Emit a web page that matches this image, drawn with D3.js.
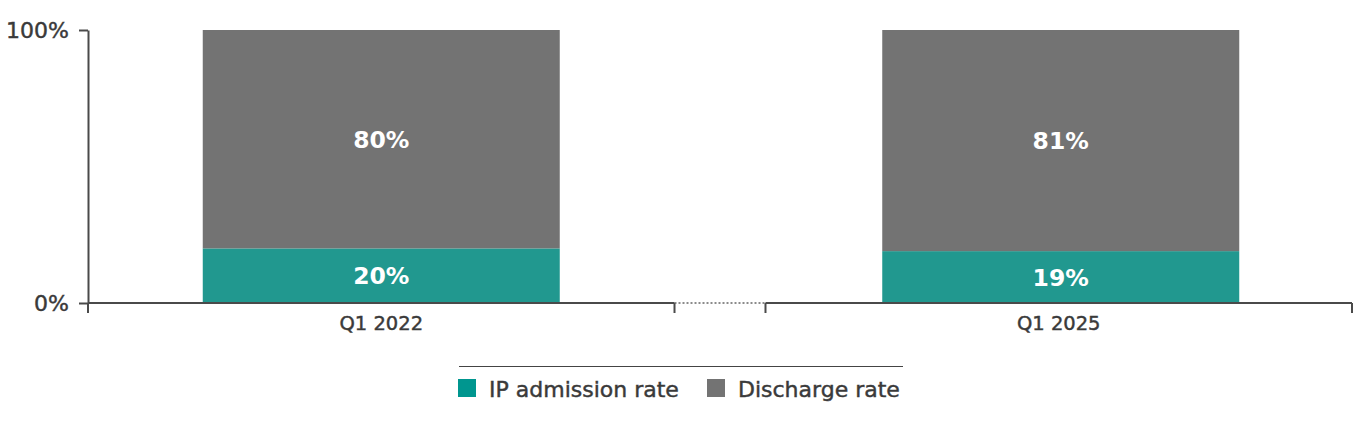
<!DOCTYPE html>
<html>
<head>
<meta charset="utf-8">
<script src="https://cdn.jsdelivr.net/npm/d3@7"></script>
<style>
  body { margin: 0; background: #fff; }
  svg text { font-family: "DejaVu Sans", "Noto Sans", sans-serif; }
</style>
</head>
<body>
<div id="chart"></div>
<script>
const categories = ["Q1 2022", "Q1 2025"];
const ipAdmission = [20, 19];
const discharge = [80, 81];
const seriesNames = ["IP admission rate", "Discharge rate"];
const yTicks = [0, 100];

const W = 1360, H = 421;
const colors = { ip: "#21988f", dis: "#737373", axis: "#4a4a4a", text: "#3a3a3a" };

const svg = d3.select("#chart").append("svg")
    .attr("width", W)
    .attr("height", H);

const y = d3.scaleLinear().domain([0, 100]).range([303, 30]);

const x = d3.scaleBand()
    .domain(categories)
    .range([88, 1352])
    .paddingInner(0.1343)
    .paddingOuter(0);

const barW = 357;
const barX = d => x(d.cat) + x.bandwidth() / 2 - barW / 2 + (d.cat === categories[1] ? 2 : 0);

const data = categories.map((c, i) => ({ cat: c, ip: ipAdmission[i], dis: discharge[i] }));

// y axis
const yAxis = svg.append("g")
    .attr("transform", "translate(88,0)")
    .call(d3.axisLeft(y).tickValues(yTicks).tickFormat(d => d + "%").tickSize(9).tickSizeOuter(0));
yAxis.select(".domain").attr("stroke", colors.axis).attr("stroke-width", 2);
yAxis.selectAll(".tick line").attr("stroke", colors.axis).attr("stroke-width", 2);
yAxis.selectAll(".tick text")
    .attr("x", -19)
    .attr("fill", colors.text)
    .attr("stroke", colors.text)
    .attr("stroke-width", 0.45)
    .style("font-size", "22px");
// extend y axis below baseline
yAxis.append("line")
    .attr("x1", 0).attr("x2", 0)
    .attr("y1", y(0)).attr("y2", y(0) + 10)
    .attr("stroke", colors.axis).attr("stroke-width", 2);

// bars
const groups = svg.selectAll(".bar").data(data).join("g").attr("class", "bar");

groups.append("rect")
    .attr("x", barX)
    .attr("width", barW)
    .attr("y", d => y(d.ip))
    .attr("height", d => y(0) - y(d.ip))
    .attr("fill", colors.ip);

groups.append("rect")
    .attr("x", barX)
    .attr("width", barW)
    .attr("y", d => y(d.ip + d.dis))
    .attr("height", d => y(d.ip) - y(d.ip + d.dis))
    .attr("fill", colors.dis);

groups.append("text")
    .attr("x", d => barX(d) + barW / 2)
    .attr("y", d => (y(0) + y(d.ip)) / 2)
    .attr("dy", "0.36em")
    .attr("text-anchor", "middle")
    .attr("fill", "#fff")
    .style("font-size", "23.5px")
    .style("font-weight", "bold")
    .text(d => d.ip + "%");

groups.append("text")
    .attr("x", d => barX(d) + barW / 2)
    .attr("y", d => (y(d.ip) + y(d.ip + d.dis)) / 2)
    .attr("dy", "0.36em")
    .attr("text-anchor", "middle")
    .attr("fill", "#fff")
    .style("font-size", "23.5px")
    .style("font-weight", "bold")
    .text(d => d.dis + "%");

// x axis segments (one per band, broken between them)
const xg = svg.append("g");
categories.forEach(c => {
    const x0 = x(c), x1 = x(c) + x.bandwidth();
    xg.append("line")
        .attr("x1", x0).attr("x2", x1)
        .attr("y1", y(0)).attr("y2", y(0))
        .attr("stroke", colors.axis).attr("stroke-width", 2);
    [x0, x1].forEach(xx => {
        if (xx === 88) return;
        xg.append("line")
            .attr("x1", xx).attr("x2", xx)
            .attr("y1", y(0)).attr("y2", y(0) + 10)
            .attr("stroke", colors.axis).attr("stroke-width", 2);
    });
    xg.append("text")
        .attr("x", x0 + x.bandwidth() / 2)
        .attr("y", y(0) + 27)
        .attr("text-anchor", "middle")
        .attr("fill", colors.text)
        .attr("stroke", colors.text)
        .attr("stroke-width", 0.45)
        .style("font-size", "19.5px")
        .text(c);
});
// dotted break between bands
xg.append("line")
    .attr("x1", x(categories[0]) + x.bandwidth())
    .attr("x2", x(categories[1]))
    .attr("y1", y(0)).attr("y2", y(0))
    .attr("stroke", "#666")
    .attr("stroke-width", 1.3)
    .attr("stroke-dasharray", "2,2");

// legend
const lg = svg.append("g");
lg.append("line")
    .attr("x1", 459).attr("x2", 903)
    .attr("y1", 366.5).attr("y2", 366.5)
    .attr("stroke", "#444").attr("stroke-width", 1.2);

const legendItems = [
    { name: seriesNames[0], color: "#00968f", x: 458 },
    { name: seriesNames[1], color: colors.dis, x: 707 }
];
legendItems.forEach(it => {
    lg.append("rect")
        .attr("x", it.x).attr("y", 379)
        .attr("width", 18).attr("height", 18)
        .attr("fill", it.color);
    lg.append("text")
        .attr("x", it.x + 31).attr("y", 397)
        .attr("fill", colors.text)
        .attr("stroke", colors.text)
        .attr("stroke-width", 0.45)
        .style("font-size", "22px")
        .text(it.name);
});
</script>
</body>
</html>
